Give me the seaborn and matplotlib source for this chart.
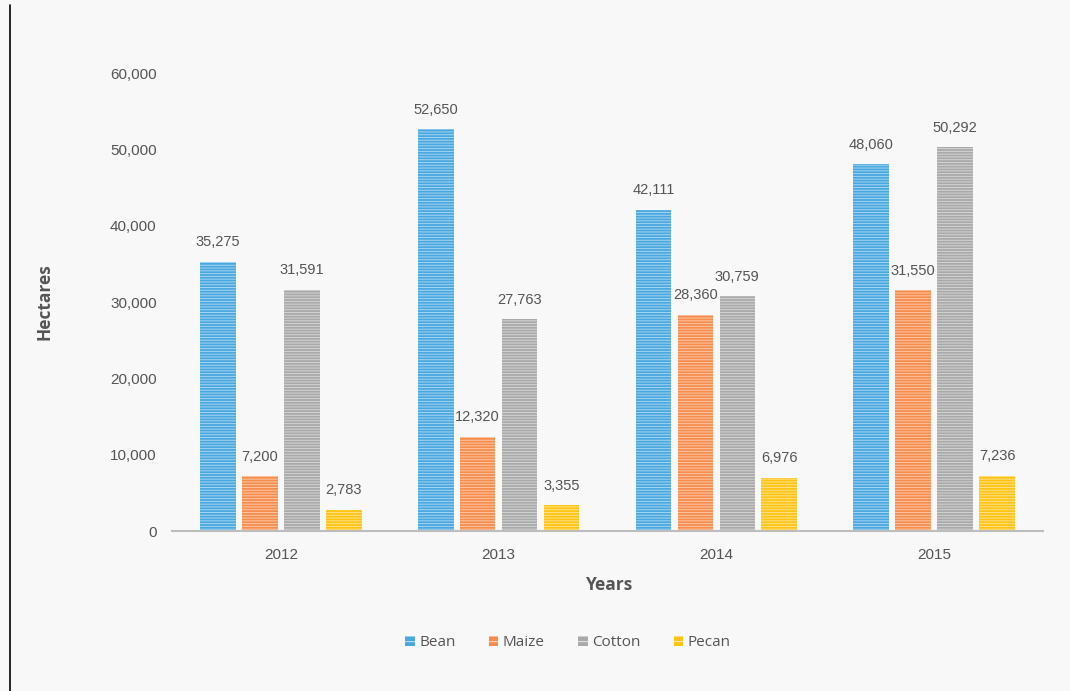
import matplotlib
matplotlib.use("Agg")
import matplotlib.pyplot as plt
import seaborn as sns
import pandas as pd
from matplotlib.patches import Patch
from matplotlib.lines import Line2D

years = ["2012", "2013", "2014", "2015"]
crops = ["Bean", "Maize", "Cotton", "Pecan"]
bean = [35275, 52650, 42111, 48060]
maize = [7200, 12320, 28360, 31550]
cotton = [31591, 27763, 30759, 50292]
pecan = [2783, 3355, 6976, 7236]
colors = ["#4aa8e0", "#f78d4d", "#a9a9a9", "#ffc314"]

series = {"Bean": bean, "Maize": maize, "Cotton": cotton, "Pecan": pecan}
rows = []
for crop in crops:
    for y, v in zip(years, series[crop]):
        rows.append({"Year": y, "Crop": crop, "Hectares": v})
df = pd.DataFrame(rows)

sns.set_theme(style="white")
plt.rcParams["hatch.linewidth"] = 0.7
bg = "#f8f8f8"
fig = plt.figure(figsize=(10.7, 6.91), dpi=100, facecolor=bg)
ax = fig.add_axes([0.1607, 0.2315, 0.8141, 0.6628])
ax.set_facecolor(bg)

sns.barplot(data=df, x="Year", y="Hectares", hue="Crop", hue_order=crops,
            order=years, palette=colors, width=0.77, gap=0.15, ax=ax,
            legend=False, saturation=1)

for p in ax.patches:
    p.set_hatch("------")
    p.set_edgecolor((1, 1, 1, 0.5))
    p.set_linewidth(0)

num_font = "Liberation Sans"
txt = "#555555"
for cont in ax.containers:
    ax.bar_label(cont, labels=[f"{v:,.0f}" for v in cont.datavalues],
                 padding=9, fontsize=10.5, color=txt, family=num_font)

ax.set_ylim(0, 60000)
ax.set_xlim(-0.5, 3.5)
ax.set_yticks(range(0, 60001, 10000))
ax.set_yticklabels([f"{v:,}" for v in range(0, 60001, 10000)],
                   family=num_font, fontsize=11, color=txt)
for lab in ax.get_xticklabels():
    lab.set_family(num_font)
    lab.set_fontsize(11)
    lab.set_color(txt)
ax.tick_params(axis="y", length=0, pad=11)
ax.tick_params(axis="x", length=0, pad=12)

for s in ["top", "right", "left"]:
    ax.spines[s].set_visible(False)
ax.spines["bottom"].set_color("#bdbdbd")
ax.spines["bottom"].set_linewidth(1.5)

ax.set_xlabel("Years", family="Open Sans", fontweight="bold", fontsize=12.5,
              color=txt, va="center")
ax.set_ylabel("Hectares", family="Open Sans", fontweight="bold", fontsize=12.5,
              color=txt, va="center")
ax.xaxis.set_label_coords(0.502, -0.118)
ax.yaxis.set_label_coords(-0.146, 0.5)

handles = [Patch(facecolor=c, edgecolor=(1, 1, 1, 0.7), hatch="---", linewidth=0)
           for c in colors]
leg = fig.legend(handles, crops, loc="center", bbox_to_anchor=(0.531, 0.070),
                 ncol=4, frameon=False, handlelength=0.6, handleheight=0.6,
                 handletextpad=0.3, columnspacing=2.2,
                 prop={"family": "Open Sans", "size": 11})
for t in leg.get_texts():
    t.set_color(txt)

fig.add_artist(Line2D([10 / 1070, 10 / 1070], [0, 1 - 5 / 691],
                      transform=fig.transFigure, color="black", linewidth=1.2))

fig.savefig("out.png", dpi=100, facecolor=bg)
